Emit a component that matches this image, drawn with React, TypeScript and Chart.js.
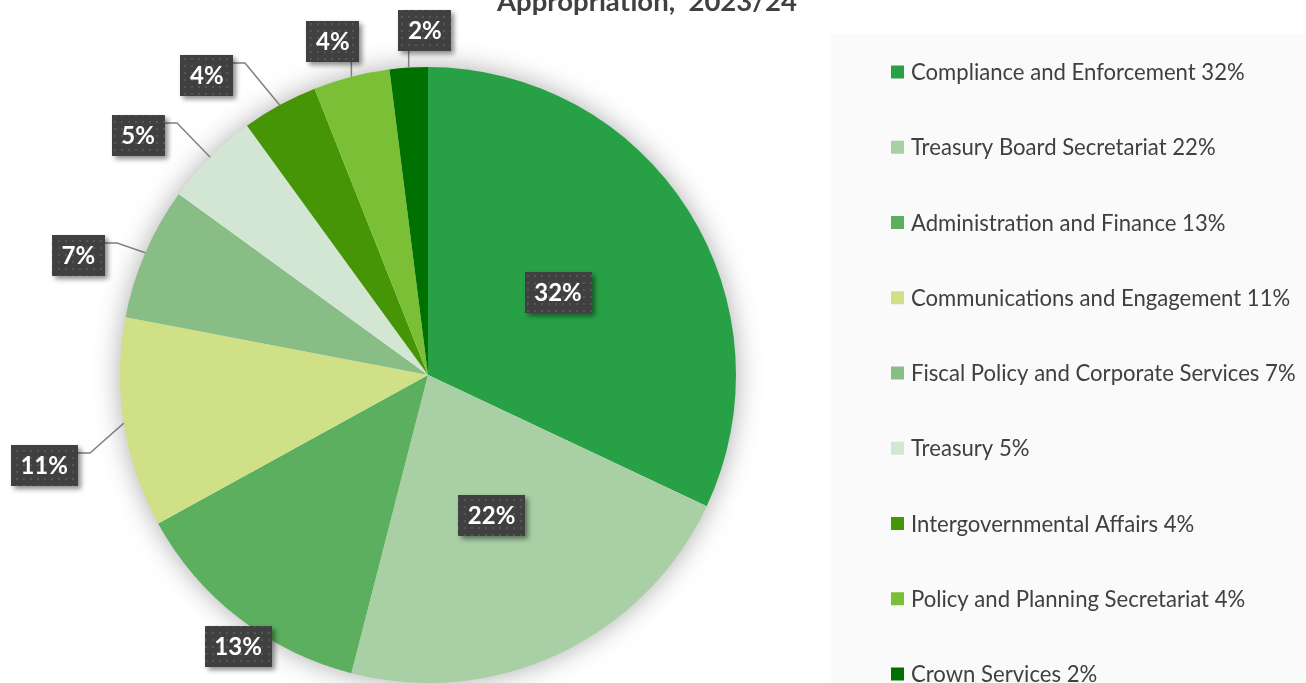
import React, { useEffect, useRef } from "react";
import { Chart, registerables } from "chart.js";

Chart.register(...registerables);

const categories = [
  "Compliance and Enforcement",
  "Treasury Board Secretariat",
  "Administration and Finance",
  "Communications and Engagement",
  "Fiscal Policy and Corporate Services",
  "Treasury",
  "Intergovernmental Affairs",
  "Policy and Planning Secretariat",
  "Crown Services",
];
const values = [32, 22, 13, 11, 7, 5, 4, 4, 2];
const colors = [
  "#28A146",
  "#A9D0A5",
  "#5BAF5F",
  "#CFE087",
  "#88BD85",
  "#D3E5D3",
  "#459507",
  "#7ABF35",
  "#007000",
];
const titleText = "Appropriation,  2023/24";

// data-label placement relative to each slice (radius factor, angle nudge in degrees)
const labelRadius = [0.5, 0.5, 1.075, 1.28, 1.2, 1.22, 1.21, 1.127, 1.12];
const labelNudge = [0, 0.8, -2.8, -4.2, -4.5, -5.5, -7.6, -1.5, 3.1];
const labelLeader = [false, false, false, true, true, true, true, true, true];

const FONT = "Lato, 'Open Sans', 'DejaVu Sans', sans-serif";

function makePattern(ctx: CanvasRenderingContext2D) {
  const c = document.createElement("canvas");
  c.width = 7;
  c.height = 7;
  const g = c.getContext("2d")!;
  g.fillStyle = "#404040";
  g.fillRect(0, 0, 7, 7);
  g.fillStyle = "#555555";
  g.fillRect(2, 2, 2, 2);
  return ctx.createPattern(c, "repeat");
}

function fitFont(ctx: CanvasRenderingContext2D, weight: string, text: string, target: number) {
  ctx.font = `${weight} 20px ${FONT}`;
  const w = ctx.measureText(text).width;
  return (20 * target) / w;
}

const decorPlugin = {
  id: "decor",
  beforeDraw(chart: any) {
    const ctx: CanvasRenderingContext2D = chart.ctx;
    ctx.save();
    // legend panel
    ctx.fillStyle = "#FAFAFA";
    ctx.fillRect(831, 34, 475, 660);
    // title
    const ts = fitFont(ctx, "bold", titleText, 300);
    ctx.font = `bold ${ts}px ${FONT}`;
    ctx.fillStyle = "#404040";
    ctx.textAlign = "center";
    ctx.textBaseline = "alphabetic";
    ctx.fillText(titleText, 647, 11);
    // legend
    const labels: string[] = chart.data.labels;
    const ds = chart.data.datasets[0];
    const first = labels[0] + " " + ds.data[0] + "%";
    const ls = fitFont(ctx, "normal", first, 334);
    ctx.font = `normal ${ls}px ${FONT}`;
    ctx.textAlign = "left";
    ctx.textBaseline = "middle";
    labels.forEach((lab, i) => {
      const y = 72 + i * 75.25;
      ctx.fillStyle = ds.backgroundColor[i];
      ctx.fillRect(891, y - 6.5, 13, 13);
      ctx.fillStyle = "#404040";
      ctx.fillText(lab + " " + ds.data[i] + "%", 911, y + 1);
    });
    ctx.restore();
  },
  beforeDatasetsDraw(chart: any) {
    const ctx: CanvasRenderingContext2D = chart.ctx;
    const meta = chart.getDatasetMeta(0);
    const a = meta.data[0];
    if (!a) return;
    ctx.save();
    ctx.beginPath();
    ctx.arc(a.x, a.y, a.outerRadius - 1, 0, Math.PI * 2);
    ctx.fillStyle = "#ffffff";
    ctx.shadowColor = "rgba(0,0,0,0.35)";
    ctx.shadowBlur = 28;
    ctx.fill();
    ctx.restore();
  },
  afterDatasetsDraw(chart: any) {
    const ctx: CanvasRenderingContext2D = chart.ctx;
    const meta = chart.getDatasetMeta(0);
    const pattern = makePattern(ctx);
    const ds = chart.data.datasets[0];
    ctx.save();
    meta.data.forEach((arc: any, i: number) => {
      const p = arc.getProps(["x", "y", "startAngle", "endAngle", "outerRadius"], true);
      const midTrue = (p.startAngle + p.endAngle) / 2;
      const mid = midTrue + (labelNudge[i] * Math.PI) / 180;
      const r = p.outerRadius * labelRadius[i];
      const cx = p.x + Math.cos(mid) * r;
      const cy = p.y + Math.sin(mid) * r;
      const text = ds.data[i] + "%";
      ctx.font = `bold 24px ${FONT}`;
      const tw = ctx.measureText(text).width;
      const bw = Math.round(tw + 19);
      const bh = 41;
      const left = Math.round(cx - bw / 2);
      const top = Math.round(cy - bh / 2);
      const right = left + bw;
      const bottom = top + bh;

      if (labelLeader[i]) {
        const ax = p.x + Math.cos(midTrue) * p.outerRadius;
        const ay = p.y + Math.sin(midTrue) * p.outerRadius;
        ctx.beginPath();
        ctx.strokeStyle = "#808080";
        ctx.lineWidth = 1.5;
        if (ax > right) {
          ctx.moveTo(right, top + 8);
          ctx.lineTo(right + 12, top + 8);
          ctx.lineTo(ax, ay);
        } else {
          const sx = Math.min(Math.max(ax, left + 10), right - 6);
          ctx.moveTo(sx, bottom);
          ctx.lineTo(ax, ay);
        }
        ctx.stroke();
      }

      ctx.save();
      ctx.shadowColor = "rgba(0,0,0,0.45)";
      ctx.shadowBlur = 5;
      ctx.shadowOffsetX = 3;
      ctx.shadowOffsetY = 3;
      ctx.fillStyle = "#404040";
      ctx.fillRect(left, top, bw, bh);
      ctx.restore();
      ctx.fillStyle = pattern || "#404040";
      ctx.fillRect(left, top, bw, bh);

      ctx.fillStyle = "#ffffff";
      ctx.textAlign = "center";
      ctx.textBaseline = "middle";
      ctx.fillText(text, cx, top + bh / 2 + 1);
    });
    ctx.restore();
  },
};

export default function App() {
  const ref = useRef<HTMLCanvasElement | null>(null);
  useEffect(() => {
    if (!ref.current) return;
    const chart = new Chart(ref.current, {
      type: "pie",
      data: {
        labels: categories,
        datasets: [
          {
            data: values,
            backgroundColor: colors,
            borderWidth: 0,
          },
        ],
      },
      options: {
        animation: false,
        responsive: true,
        maintainAspectRatio: false,
        rotation: 0,
        layout: { padding: { left: 120, right: 570, top: 67, bottom: 0 } },
        plugins: {
          legend: { display: false },
          title: { display: false },
          tooltip: { enabled: false },
        },
      },
      plugins: [decorPlugin],
    });
    return () => chart.destroy();
  }, []);
  return (
    <div style={{ position: "absolute", left: 0, top: 0, width: 1306, height: 683, overflow: "hidden", background: "#ffffff" }}>
      <canvas ref={ref} />
    </div>
  );
}
